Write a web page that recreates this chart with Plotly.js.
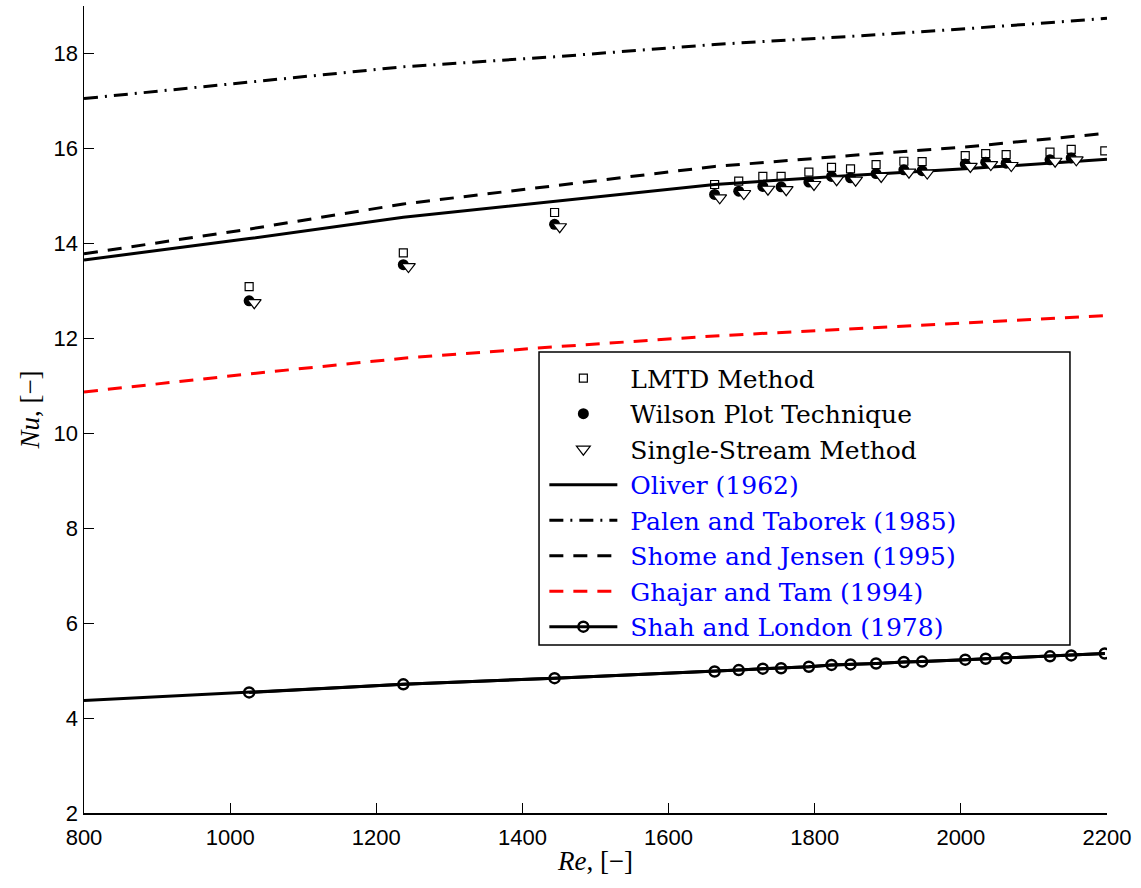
<!DOCTYPE html>
<html>
<head>
<meta charset="utf-8">
<script src="https://cdn.plot.ly/plotly-3.0.1.min.js"></script>
<style>html,body{margin:0;padding:0;background:#fff;}#chart{width:1141px;height:888px;}</style>
</head>
<body>
<div id="chart"></div>
<script>
// Experimental data (Re, Nu)
var reLMTD = [1026,1237,1444,1663,1696,1729,1754,1792,1823,1849,1884,1922,1947,2006,2034,2062,2122,2151,2197];
var nuLMTD = [13.09,13.80,14.65,15.24,15.31,15.41,15.41,15.50,15.60,15.57,15.66,15.73,15.72,15.85,15.89,15.87,15.92,15.98,15.95];
var reWilson = [1026,1237,1444,1663,1696,1729,1754,1792,1823,1849,1884,1922,1947,2006,2034,2062,2122,2151];
var nuWilson = [12.79,13.55,14.40,15.03,15.10,15.20,15.19,15.29,15.41,15.38,15.47,15.55,15.53,15.67,15.71,15.69,15.76,15.80];
var reSingle = [1033,1244,1451,1670,1703,1736,1761,1799,1830,1856,1891,1929,1954,2013,2041,2069,2129,2158];
var nuSingle = [12.75,13.51,14.35,14.96,15.05,15.14,15.13,15.24,15.34,15.33,15.41,15.50,15.48,15.62,15.66,15.64,15.73,15.76];

// Correlations
var reCorr = [800,1026,1237,1444,1663,1849,2006,2200];
var nuOliver = [13.65,14.10,14.55,14.88,15.24,15.43,15.57,15.77];
var nuPalen  = [17.05,17.39,17.72,17.93,18.19,18.36,18.52,18.74];
var nuShome  = [13.78,14.30,14.83,15.22,15.62,15.85,16.03,16.32];
var nuGhajar = [10.87,11.25,11.58,11.82,12.05,12.20,12.32,12.48];

var reShah = [800,1026,1237,1444,1663,1696,1729,1754,1792,1823,1849,1884,1922,1947,2006,2034,2062,2122,2151,2197];
var nuShah = [4.37,4.54,4.71,4.84,4.98,5.01,5.04,5.05,5.08,5.12,5.13,5.15,5.18,5.19,5.23,5.25,5.26,5.30,5.32,5.36];

var legendNames = ['LMTD Method','Wilson Plot Technique','Single-Stream Method',
  'Oliver (1962)','Palen and Taborek (1985)','Shome and Jensen (1995)','Ghajar and Tam (1994)','Shah and London (1978)'];

var gap = '\u00A0';
function blue(s){ return gap + '<span style="color:#0000ff">' + s + '</span>'; }

var traces = [
  {x: reCorr, y: nuOliver, mode:'lines', name: blue(legendNames[3]), line:{color:'black', width:3}, legendrank:4},
  {x: reCorr, y: nuPalen, mode:'lines', name: blue(legendNames[4]), line:{color:'black', width:3, dash:'14px,7px,2px,7px'}, legendrank:5},
  {x: reCorr, y: nuShome, mode:'lines', name: blue(legendNames[5]), line:{color:'black', width:3, dash:'14px,10px'}, legendrank:6},
  {x: reCorr, y: nuGhajar, mode:'lines', name: blue(legendNames[6]), line:{color:'#ff0000', width:3, dash:'14px,10px'}, legendrank:7},
  {x: reShah, y: nuShah, mode:'lines', showlegend:false, line:{color:'black', width:3}, hoverinfo:'skip'},
  {x: reShah.slice(1), y: nuShah.slice(1), mode:'lines+markers', name: blue(legendNames[7]),
   line:{color:'black', width:3}, marker:{symbol:'circle-open', size:10, color:'black', line:{width:2.5, color:'black'}}, legendrank:8},
  {x: reLMTD, y: nuLMTD, mode:'markers', name: gap + legendNames[0],
   marker:{symbol:'square-open', size:8, color:'black', line:{width:1.2, color:'black'}}, legendrank:1},
  {x: reWilson, y: nuWilson, mode:'markers', name: gap + legendNames[1],
   marker:{symbol:'circle', size:11, color:'black', line:{width:0}}, legendrank:2},
  {x: reSingle, y: nuSingle, mode:'markers', name: gap + legendNames[2],
   marker:{symbol:'triangle-down', size:12, color:'white', line:{width:1.2, color:'black'}}, legendrank:3}
];

var layout = {
  width:1141, height:888,
  margin:{l:84, r:34, t:6, b:75},
  paper_bgcolor:'white', plot_bgcolor:'white',
  showlegend:true,
  shapes:[{type:'rect', xref:'paper', yref:'paper', x0:0.4448, x1:0.9638, y0:0.2082, y1:0.5713,
    fillcolor:'white', line:{color:'black', width:1.5}, layer:'above'}],
  legend:{x:0.450, y:0.567, xanchor:'left', yanchor:'top', bgcolor:'rgba(0,0,0,0)', borderwidth:0,
    font:{family:'"DejaVu Serif", "Liberation Serif", serif', size:25, color:'black'}, itemwidth:68, tracegroupgap:0},
  xaxis:{range:[800,2200], tickvals:[800,1000,1200,1400,1600,1800,2000,2200], ticktext:['800','1000','1200','1400','1600','1800','2000','2200'],
    ticks:'inside', ticklen:10, tickwidth:1, tickcolor:'black', showline:true, linecolor:'black', linewidth:1.5,
    showgrid:false, zeroline:false, mirror:false, ticklabelstandoff:4,
    tickfont:{family:'"Liberation Sans", Arial, sans-serif', size:22, color:'black'},
    title:{text:'<i>Re</i>, [−]', font:{family:'"Liberation Serif", "DejaVu Serif", serif', size:27, color:'black'}, standoff:2}},
  yaxis:{range:[2,19], tickvals:[2,4,6,8,10,12,14,16,18], ticktext:['2','4','6','8','10','12','14','16','18'],
    ticks:'inside', ticklen:10, tickwidth:1, tickcolor:'black', showline:true, linecolor:'black', linewidth:1.5,
    showgrid:false, zeroline:false, mirror:false,
    tickfont:{family:'"Liberation Sans", Arial, sans-serif', size:22, color:'black'},
    title:{text:'<i>Nu</i>, [−]', font:{family:'"Liberation Serif", "DejaVu Serif", serif', size:27, color:'black'}, standoff:6}}
};

Plotly.newPlot('chart', traces, layout, {displayModeBar:false, staticPlot:true});
</script>
</body>
</html>
